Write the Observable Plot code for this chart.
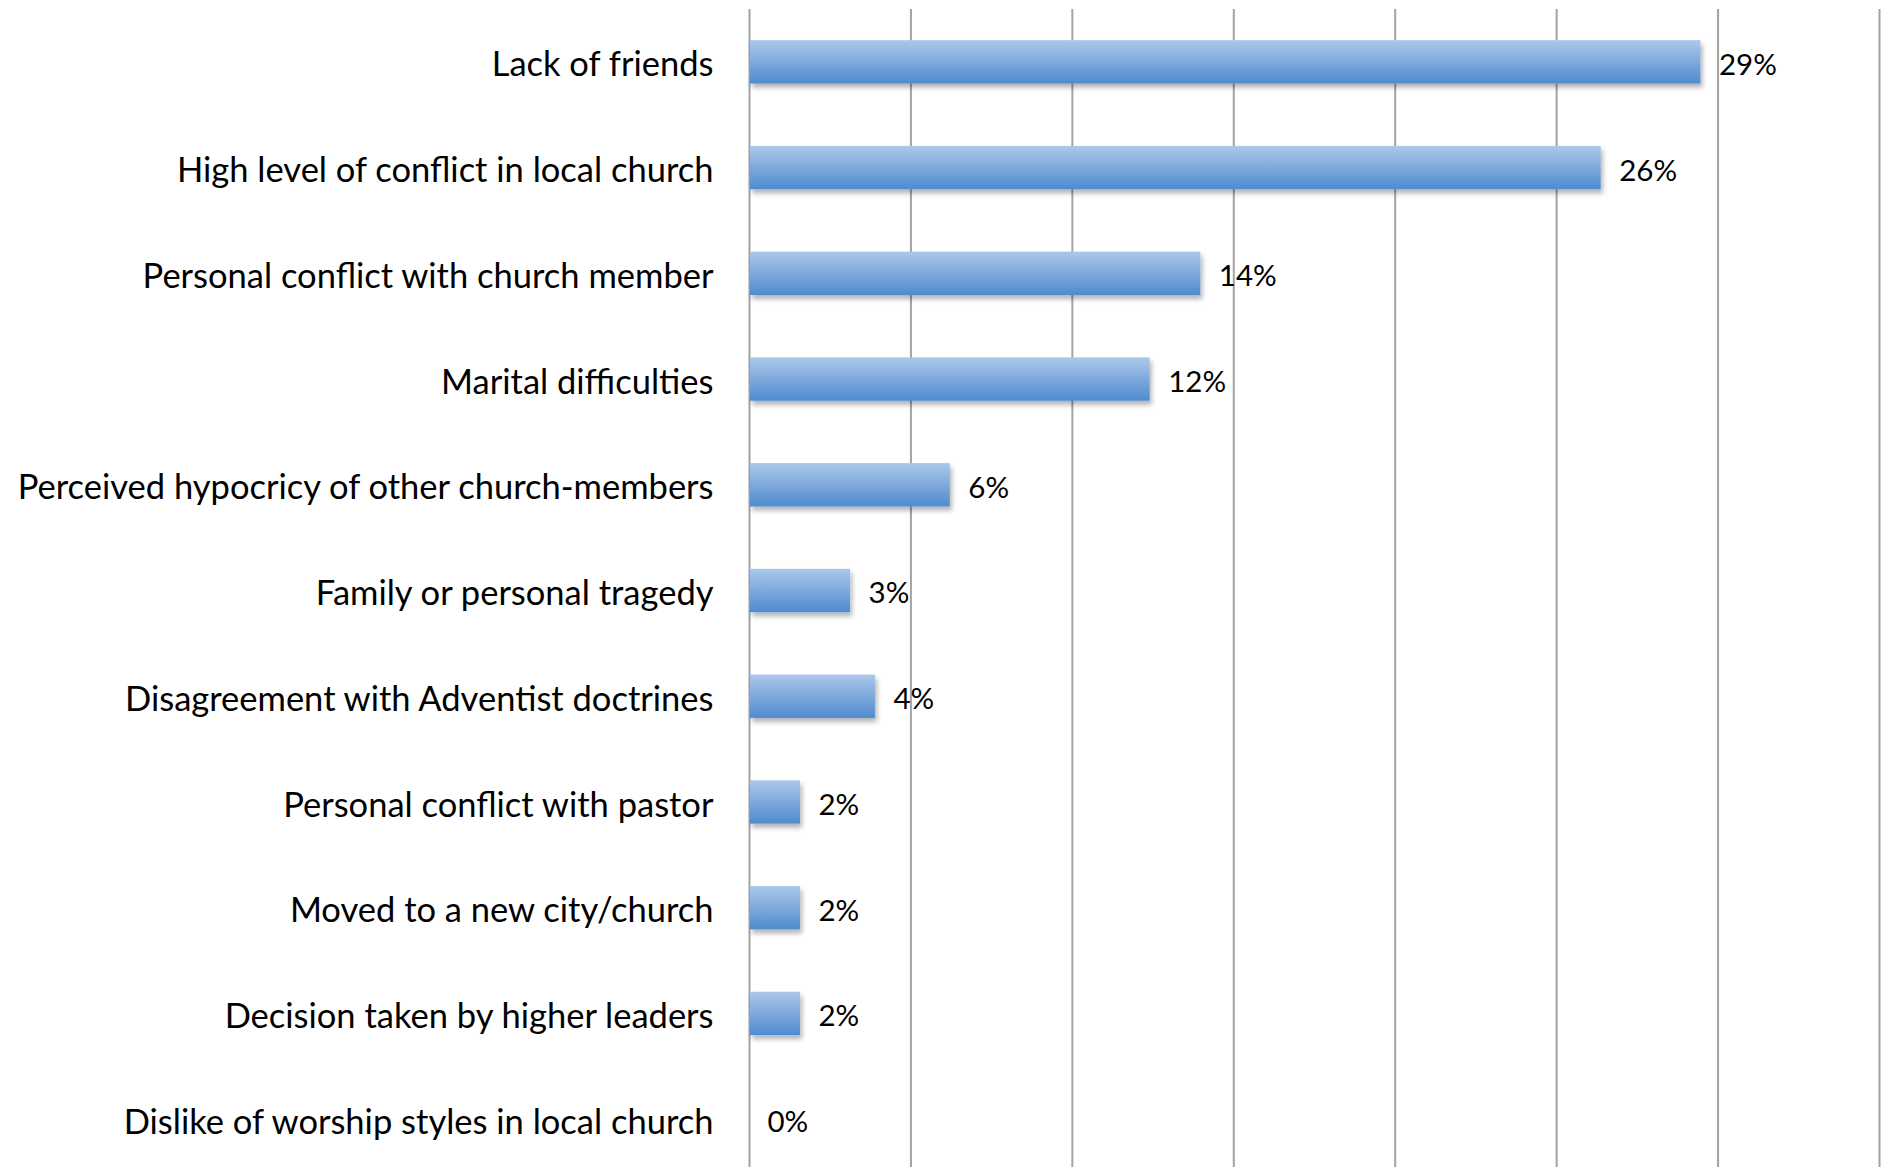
<!DOCTYPE html>
<html>
<head>
<meta charset="utf-8">
<script src="https://cdn.jsdelivr.net/npm/d3@7"></script>
<script src="https://cdn.jsdelivr.net/npm/@observablehq/plot@0.6"></script>
<style>
  html, body { margin: 0; padding: 0; background: #fff; }
</style>
</head>
<body>
<div id="chart"></div>
<script>
const categories = [
  "Lack of friends",
  "High level of conflict in local church",
  "Personal conflict with church member",
  "Marital difficulties",
  "Perceived hypocricy of other church-members",
  "Family or personal tragedy",
  "Disagreement with Adventist doctrines",
  "Personal conflict with pastor",
  "Moved to a new city/church",
  "Decision taken by higher leaders",
  "Dislike of worship styles in local church"
];
const values = [29.47, 26.38, 13.98, 12.41, 6.22, 3.13, 3.90, 1.58, 1.58, 1.58, 0];
const valueLabels = ["29%", "26%", "14%", "12%", "6%", "3%", "4%", "2%", "2%", "2%", "0%"];
const gridTicks = [0, 5, 10, 15, 20, 25, 30, 35];

const data = categories.map((c, i) => ({category: c, value: values[i], label: valueLabels[i]}));

const fontFamily = "Lato, 'Open Sans', sans-serif";

const chart = Plot.plot({
  width: 1888,
  height: 1167,
  marginLeft: 749,
  marginRight: 9,
  marginTop: 9,
  marginBottom: 0,
  style: {fontFamily, background: "#fff", color: "#000"},
  x: {domain: [0, 35], axis: null},
  y: {domain: categories, range: [9, 1172], paddingInner: 0.59, paddingOuter: 0.295, round: false, label: null},
  marks: [
    Plot.ruleX(gridTicks, {stroke: "#a3a3a3", strokeWidth: 2}),
    Plot.barX(data.filter(d => d.value > 0), {
      x: "value",
      y: "category",
      fill: "url(#barGrad)",
      insetLeft: 1
    }),
    Plot.text(data, {
      x: "value",
      y: "category",
      text: "label",
      dx: 18,
      dy: 3,
      textAnchor: "start",
      fontSize: 29.5,
      fill: "#000"
    }),
    Plot.axisY({
      tickSize: 0,
      tickPadding: 36,
      fontSize: 34.5,
      dy: 3,
      fill: "#000",
      label: null
    })
  ]
});

// gradient + shadow definitions
const ns = "http://www.w3.org/2000/svg";
const defs = document.createElementNS(ns, "defs");
defs.innerHTML = `
  <linearGradient id="barGrad" x1="0" y1="0" x2="0" y2="1">
    <stop offset="0" stop-color="#abc8ea"/>
    <stop offset="0.5" stop-color="#7fa9dc"/>
    <stop offset="1" stop-color="#4d8bcf"/>
  </linearGradient>
  <filter id="barShadow" x="-5%" y="-20%" width="115%" height="160%">
    <feDropShadow dx="2" dy="4" stdDeviation="2.5" flood-color="#000" flood-opacity="0.3"/>
  </filter>`;
chart.insertBefore(defs, chart.firstChild);
chart.querySelectorAll("rect").forEach(r => {
  if (r.getAttribute("fill") === "url(#barGrad)" || (r.parentNode && r.parentNode.getAttribute("fill") === "url(#barGrad)")) {
    r.setAttribute("filter", "url(#barShadow)");
  }
});

document.getElementById("chart").appendChild(chart);
</script>
</body>
</html>
